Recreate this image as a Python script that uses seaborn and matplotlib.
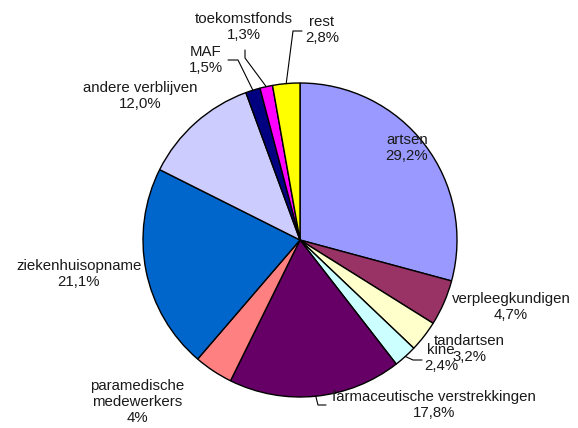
import numpy as np
import matplotlib
matplotlib.use("Agg")
import matplotlib.pyplot as plt
import seaborn as sns

categories = ["artsen", "verpleegkundigen", "tandartsen", "kine",
              "farmaceutische verstrekkingen", "paramedische\nmedewerkers",
              "ziekenhuisopname", "andere verblijven", "MAF",
              "toekomstfonds", "rest"]
values = [29.2, 4.7, 3.2, 2.4, 17.8, 4.0, 21.1, 12.0, 1.5, 1.3, 2.8]
value_labels = ["29,2%", "4,7%", "3,2%", "2,4%", "17,8%", "4%", "21,1%",
                "12,0%", "1,5%", "1,3%", "2,8%"]
colors = ["#9999FF", "#993366", "#FFFFCC", "#CCFFFF", "#660066", "#FF8080",
          "#0066CC", "#CCCCFF", "#000080", "#FF00FF", "#FFFF00"]

sns.set_theme(style="white")
plt.rcParams['font.family'] = ['Liberation Sans', 'DejaVu Sans']

W, H = 578, 428
fig = plt.figure(figsize=(W / 100, H / 100), dpi=100)
ax = fig.add_axes([0, 0, 1, 1])

def P(x, y):
    return (x, H - y)

cx, cy = P(300, 240)
R = 157
wedges, _ = ax.pie(values, colors=colors, startangle=90, counterclock=False,
                   center=(cx, cy), radius=R, frame=True,
                   wedgeprops=dict(edgecolor="black", linewidth=1.0))
ax.set_xlim(0, W)
ax.set_ylim(0, H)
ax.axis("off")

# label positions (pixel coords, text-block centres)
label_pos = [(407, 148), (511, 307), (469, 349), (441, 358), (434, 405),
             (137, 402), (79, 274), (140, 96), (206, 60), (244, 27), (322, 30)]

for cat, lab, (lx, ly) in zip(categories, value_labels, label_pos):
    ax.text(*P(lx, ly), f"{cat}\n{lab}", ha="center", va="center",
            fontsize=10.8, color="#1a1a1a", linespacing=1.18)

# leader lines: wedge index -> elbow points (pixels)
leaders = {
    3: [(413, 360), (422, 360)],
    4: [(318, 405), (326, 405)],
    8: [(238, 60), (228, 60)],
    9: [(245, 58), (245, 50)],
    10: [(293, 31), (302, 31)],
}
for i, pts in leaders.items():
    w = wedges[i]
    mid = np.deg2rad((w.theta1 + w.theta2) / 2)
    ax0 = cx + R * np.cos(mid)
    ay0 = cy + R * np.sin(mid)
    xs = [ax0] + [p[0] for p in pts]
    ys = [ay0] + [H - p[1] for p in pts]
    ax.plot(xs, ys, color="black", linewidth=0.8)

fig.savefig("out.png", dpi=100, facecolor="white")
